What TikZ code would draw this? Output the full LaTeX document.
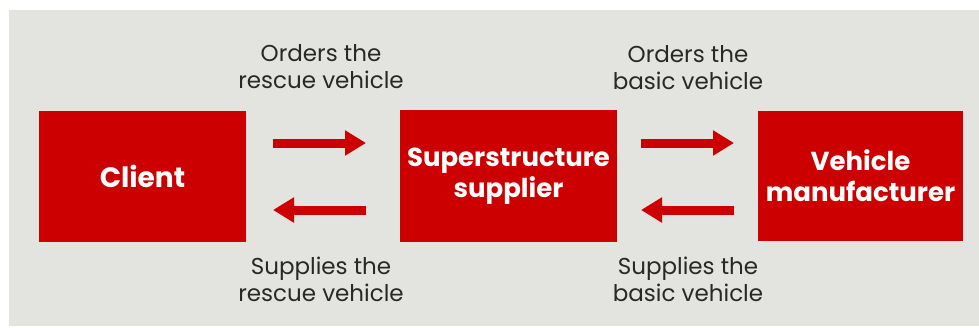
\documentclass[tikz,border=0pt]{standalone}
\usepackage{fontspec}
\setmainfont{Poppins}
\usetikzlibrary{arrows.meta}
\definecolor{panel}{RGB}{227,227,224}
\definecolor{boxred}{RGB}{204,0,0}
\definecolor{labeltext}{RGB}{40,40,40}
\begin{document}
\begin{tikzpicture}[x=1pt,y=-1pt,
  party/.style={fill=boxred,draw=none,inner sep=0pt,text=white,
    font=\fontsize{26}{31}\selectfont\bfseries,align=center},
  flow/.style={draw=boxred,line width=9pt,
    -{Triangle[length=21pt,width=24pt]},shorten >=0pt},
  caption/.style={text=labeltext,font=\fontsize{23}{27}\selectfont,align=center,inner sep=0pt}]
  % page and grey panel
  \fill[white] (0,0) rectangle (979,327);
  \fill[panel] (9,10) rectangle (979,326);
  \useasboundingbox (0,0) rectangle (979,327);
  % the three parties
  \node[party,minimum width=207pt,minimum height=131pt,font=\fontsize{28}{32}\selectfont\bfseries] (client) at (142.5,176.5) {Client};
  \node[party,minimum width=217pt,minimum height=132pt] (super) at (508.5,176) {Superstructure\\supplier};
  \node[party,minimum width=205pt,minimum height=130pt] (maker) at (860.5,176) {Vehicle\\manufacturer};
  % anchor points for the flow arrows
  \coordinate (a1s) at (273,143); \coordinate (a1e) at (366,143);
  \coordinate (a2s) at (366,210); \coordinate (a2e) at (273,210);
  \coordinate (b1s) at (641,143); \coordinate (b1e) at (734,143);
  \coordinate (b2s) at (734,210); \coordinate (b2e) at (641,210);
  \draw[flow] (a1s) -- (a1e);
  \draw[flow] (a2s) -- (a2e);
  \draw[flow] (b1s) -- (b1e);
  \draw[flow] (b2s) -- (b2e);
  % labels
  \node[caption] (l1) at (321,67) {Orders the\\rescue vehicle};
  \node[caption] (l2) at (321,279) {Supplies the\\rescue vehicle};
  \node[caption] (l3) at (688,68) {Orders the\\basic vehicle};
  \node[caption] (l4) at (688,279) {Supplies the\\basic vehicle};
\end{tikzpicture}
\end{document}
